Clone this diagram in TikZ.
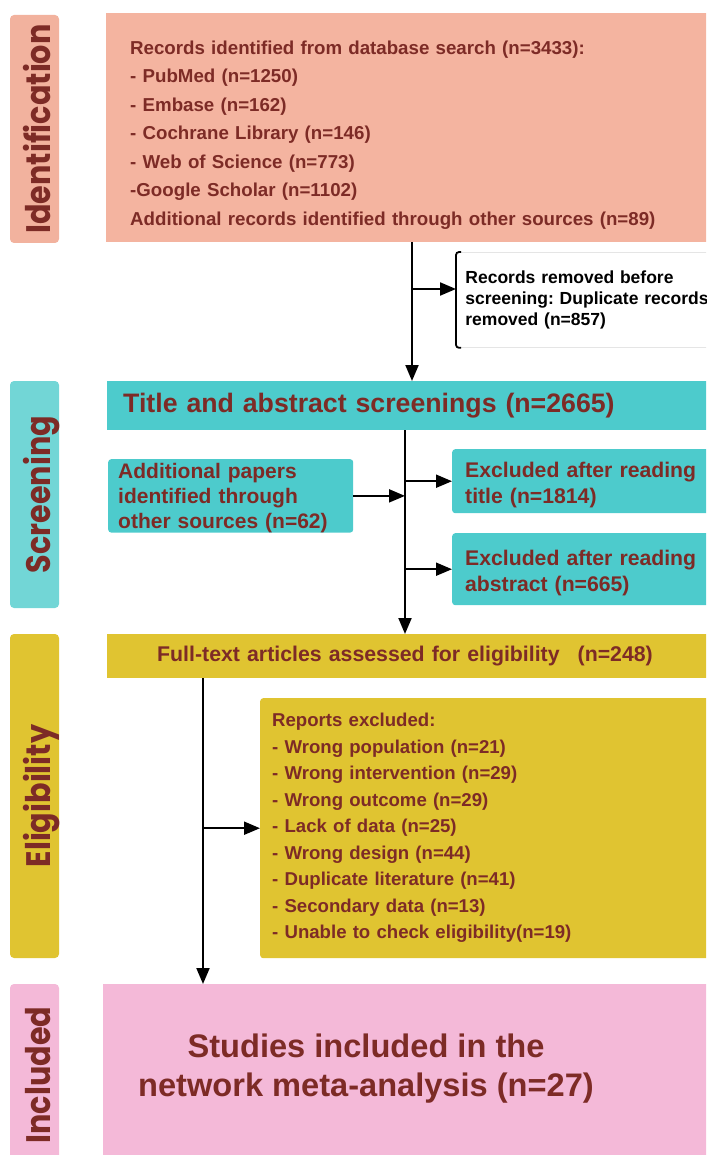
\documentclass[tikz,border=0pt]{standalone}
\usepackage{fontspec}
\setmainfont{Liberation Sans}
\newfontfamily\labelfont[FakeStretch=0.89]{Poppins}
\usetikzlibrary{arrows.meta, positioning}
\frenchspacing
\definecolor{txtred}{RGB}{125,43,38}
\definecolor{idfill}{RGB}{244,180,160}
\definecolor{idlab}{RGB}{242,178,158}
\definecolor{scfill}{RGB}{77,203,204}
\definecolor{sclab}{RGB}{114,214,214}
\definecolor{elfill}{RGB}{224,196,49}
\definecolor{infill}{RGB}{244,185,216}
\tikzset{
  stage/.style={rotate=90, rounded corners=4pt, inner sep=0pt, text height=40pt, text depth=9pt,
    text=txtred, font=\labelfont\bfseries\fontsize{34}{36}\selectfont},
  box/.style={anchor=north west, text=txtred, align=left, inner ysep=0pt},
  arr/.style={line width=2pt, -{Triangle[length=16pt,width=13pt]}},
}

\begin{document}
\begin{tikzpicture}[x=1pt,y=-1pt]
\useasboundingbox (0,0) rectangle (706,1155);
\clip (0,0) rectangle (706,1155);
% stage labels
\node[stage, fill=idlab, minimum width=228pt] (lid) at (34.5,129) {Identification};
\node[stage, fill=sclab, minimum width=227pt] (lsc) at (34.5,494.5) {Screening};
\node[stage, fill=elfill, minimum width=324pt] (lel) at (34.5,796) {Eligibility};
\node[stage, fill=infill, minimum width=182pt] (lin) at (34.5,1075) {Included};
% identification
\node[box, fill=idfill, minimum height=229pt, text width=572pt, inner xsep=24pt,
  font=\bfseries\fontsize{18.7}{28.5}\selectfont] (ident) at (106,13)
  {\rule{0pt}{28pt}Records identified from database search (n=3433):\\
   - PubMed (n=1250)\\
   - Embase (n=162)\\
   - Cochrane Library (n=146)\\
   - Web of Science (n=773)\\
   -Google Scholar (n=1102)\\
   Additional records identified through other sources (n=89)};
\node[box, fill=white, draw=gray!20, line width=0.8pt, text=black, minimum height=95pt,
  text width=260pt, inner xsep=9pt, font=\bfseries\fontsize{17.5}{21}\selectfont] (removed) at (456,252)
  {Records removed before\\screening: Duplicate records\\removed (n=857)};
\draw[line width=1.8pt, rounded corners=3pt] ([xshift=5pt]removed.north west) -- (removed.north west)
  -- (removed.south west) -- ([xshift=5pt]removed.south west);
% screening
\node[box, fill=scfill, minimum height=49pt, text width=600pt, inner xsep=16pt,
  font=\bfseries\fontsize{26.7}{30}\selectfont] (title) at (107,381)
  {Title and abstract screenings (n=2665)};
\node[box, fill=scfill, rounded corners=3pt, minimum height=73pt, text width=225pt, inner xsep=10pt,
  font=\bfseries\fontsize{21}{25}\selectfont] (papers) at (108,459)
  {\rule{0pt}{19pt}Additional papers\\identified through\\other sources (n=62)};
\node[box, fill=scfill, rounded corners=3pt, minimum height=64pt, text width=260pt, inner xsep=13pt,
  font=\bfseries\fontsize{21.2}{26}\selectfont] (extitle) at (452,449)
  {\rule{0pt}{23pt}Excluded after reading\\title (n=1814)};
\node[box, fill=scfill, rounded corners=3pt, minimum height=72pt, text width=260pt, inner xsep=13pt,
  font=\bfseries\fontsize{21.2}{26}\selectfont] (exabs) at (452,533)
  {\rule{0pt}{22pt}Excluded after reading\\abstract (n=665)};
% eligibility
\node[box, fill=elfill, minimum height=44pt, text width=560pt, inner xsep=50pt,
  font=\bfseries\fontsize{21.3}{24}\selectfont] (fulltext) at (107,634)
  {Full-text articles assessed for eligibility\hspace{18pt}(n=248)};
\node[box, fill=elfill, rounded corners=3pt, minimum height=260pt, text width=430pt, inner xsep=12pt,
  font=\bfseries\fontsize{18.6}{26.5}\selectfont] (reports) at (260,698)
  {Reports excluded:\\
   - Wrong population (n=21)\\
   - Wrong intervention (n=29)\\
   - Wrong outcome (n=29)\\
   - Lack of data (n=25)\\
   - Wrong design (n=44)\\
   - Duplicate literature (n=41)\\
   - Secondary data (n=13)\\
   - Unable to check eligibility(n=19)};
% included
\node[box, fill=infill, minimum width=640pt, minimum height=190pt] (incl) at (103,984) {};
\node[text=txtred, align=center, font=\bfseries\fontsize{32.6}{39}\selectfont] (incltext) at (366,1069)
  {Studies included in the\\network meta-analysis (n=27)};
% connectors
\coordinate (ta) at (412,0);
\coordinate (tb) at (405,0);
\coordinate (tc) at (203,0);
\coordinate (rb) at (412,289);
\draw[arr] (ident.south -| ta) -- (title.north -| ta);
\draw[arr] (rb) -- (rb -| removed.west);
\draw[arr] (title.south -| tb) -- (fulltext.north -| tb);
\draw[arr] (papers.east) -- (papers.east -| tb);
\draw[arr] (extitle.west -| tb) -- (extitle.west);
\draw[arr] (exabs.west -| tb) -- (exabs.west);
\draw[arr] (fulltext.south -| tc) -- (incl.north -| tc);
\draw[arr] (reports.west -| tc) -- (reports.west);
\end{tikzpicture}
\end{document}
